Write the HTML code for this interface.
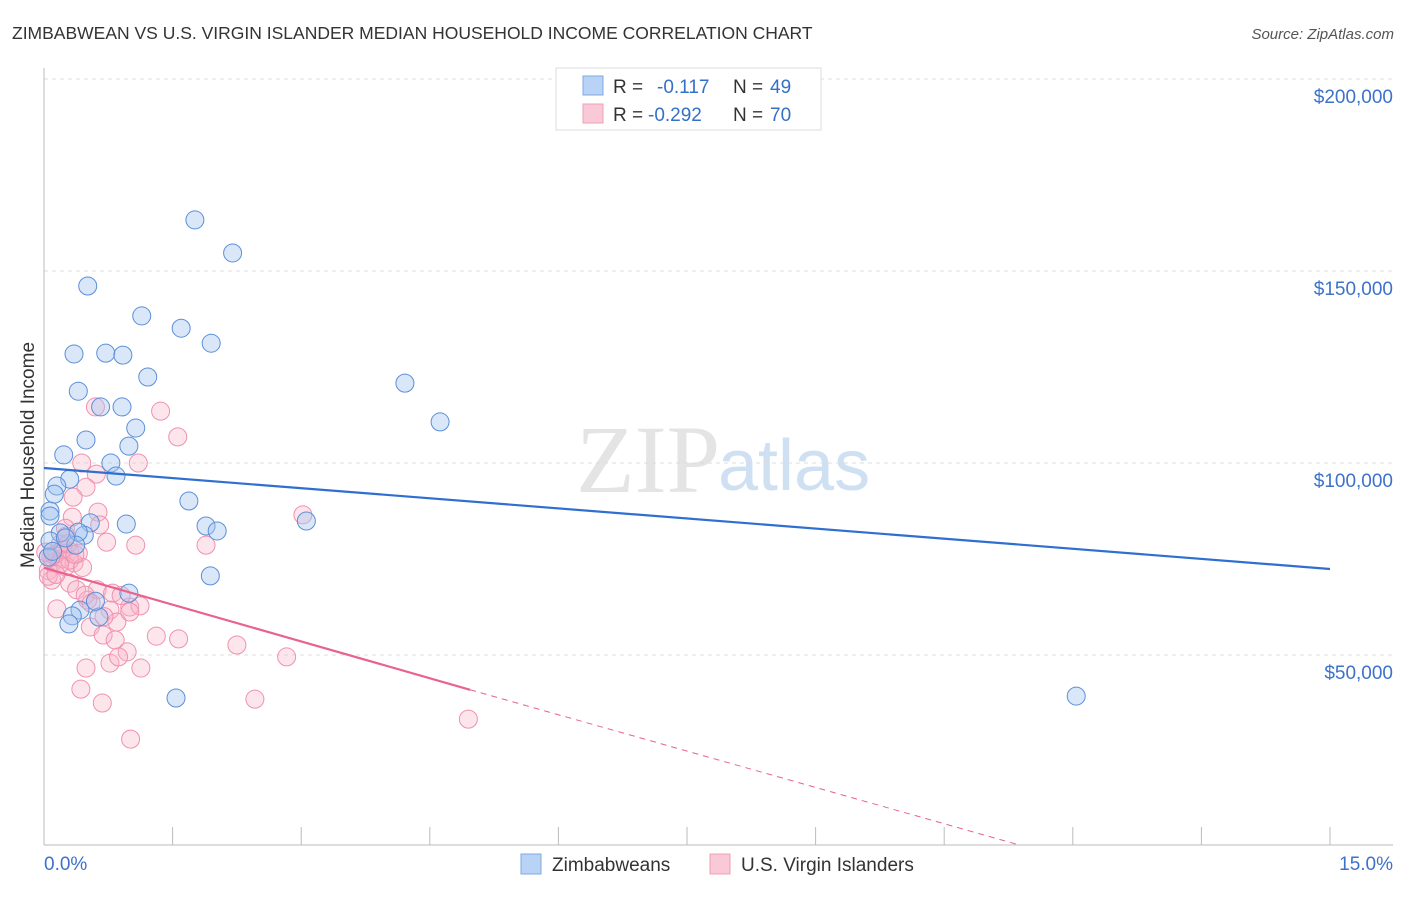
<!DOCTYPE html>
<html><head><meta charset="utf-8"><style>
body{margin:0;background:#fff;font-family:"Liberation Sans",sans-serif;}
</style></head><body>
<svg id="chart" width="1406" height="892" xmlns="http://www.w3.org/2000/svg" style="font-family:'Liberation Sans',sans-serif">
<text x="12" y="39" font-size="17.5" fill="#333">ZIMBABWEAN VS U.S. VIRGIN ISLANDER MEDIAN HOUSEHOLD INCOME CORRELATION CHART</text>
<text x="1394" y="39" font-size="15" fill="#555" font-style="italic" text-anchor="end">Source: ZipAtlas.com</text>
<text x="720" y="492" font-size="96" fill="#e4e4e4" text-anchor="end" font-family="Liberation Serif">ZIP</text>
<text x="718" y="490" font-size="72" fill="#cfe0f3">atlas</text>
<g id="grid"></g><g id="axes"></g><g id="pts"></g><g id="trends"></g>
<text transform="translate(34,455) rotate(-90)" font-size="19" fill="#333" text-anchor="middle">Median Household Income</text>
<g>
<rect x="556" y="68" width="265" height="62" fill="#fff" stroke="#ddd"/>
<rect x="583" y="76" width="20" height="19" fill="#b8d3f5" stroke="#7fa8e0"/>
<rect x="583" y="104" width="20" height="19" fill="#f9c9d8" stroke="#f0a0b8"/>
<text x="613" y="93" font-size="19" fill="#333">R = </text><text x="657" y="93" font-size="19" fill="#3570c8">-0.117</text>
<text x="733" y="93" font-size="19" fill="#333">N = </text><text x="770" y="93" font-size="19" fill="#3570c8">49</text>
<text x="613" y="121" font-size="19" fill="#333">R = </text><text x="648" y="121" font-size="19" fill="#3570c8">-0.292</text>
<text x="733" y="121" font-size="19" fill="#333">N = </text><text x="770" y="121" font-size="19" fill="#3570c8">70</text>
</g>
<g>
<rect x="521" y="854" width="20" height="20" fill="#b8d3f5" stroke="#7fa8e0"/>
<text x="552" y="871" font-size="19" fill="#333">Zimbabweans</text>
<rect x="710" y="854" width="20" height="20" fill="#f9c9d8" stroke="#f0a0b8"/>
<text x="741" y="871" font-size="19" fill="#333">U.S. Virgin Islanders</text>
</g>
</svg>
<script>
const xTicks=[0,1.5,3,4.5,6,7.5,9,10.5,12,13.5,15];
const yTicks=[50,100,150,200];
const yTickLabels=["$50,000","$100,000","$150,000","$200,000"];
const xTickLabels=["0.0%","15.0%"];
const blueX=[1.76,2.20,0.51,1.14,1.60,1.95,0.35,0.72,0.92,1.21,4.21,0.40,0.66,0.91,4.62,1.07,0.49,0.99,0.23,0.78,0.84,0.30,0.15,0.12,1.69,0.07,0.07,0.54,0.96,1.89,3.06,2.02,0.19,0.47,0.40,0.07,0.37,1.94,0.99,0.42,0.33,0.64,0.29,1.54,12.04,0.05,0.10,0.60,0.25];
const blueY=[163.3,154.7,146.1,138.3,135.1,131.2,128.4,128.6,128.1,122.4,120.8,118.7,114.6,114.6,110.7,109.1,106.0,104.4,102.1,100.0,96.6,95.8,94.0,91.9,90.1,87.5,86.2,84.4,84.1,83.6,84.9,82.3,81.8,81.2,82.0,79.7,78.6,70.6,66.1,61.7,60.2,59.9,58.1,38.8,39.3,75.5,77.0,64.0,80.5];
const pinkX=[0.60,1.36,1.56,0.44,1.10,0.61,0.49,0.34,0.63,0.33,0.73,1.07,1.89,0.15,0.20,0.10,0.30,0.05,0.25,0.35,0.40,0.09,0.30,0.62,0.80,0.38,0.51,1.0,1.12,0.15,0.77,0.54,0.85,0.69,0.83,1.31,1.57,2.25,0.97,0.77,1.13,0.49,0.87,2.83,0.43,2.46,0.68,1.01,4.95,3.02,0.48,1.0,0.19,0.30,0.25,0.65,0.12,0.22,0.18,0.05,0.28,0.08,0.45,0.36,0.14,0.55,0.70,0.26,0.02,0.90];
const pinkY=[114.6,113.5,106.8,100,100,97.1,93.7,91.1,87.2,85.9,79.4,78.6,78.6,76.5,75,74,77,72,73,74,76.5,69.5,68.7,67,66.1,67,64.3,62.5,62.8,62,61.7,57.3,58.6,55.2,53.9,54.9,54.2,52.6,50.8,47.9,46.6,46.6,49.5,49.5,41.1,38.5,37.5,28.1,33.3,86.5,65.6,61.2,78.9,74.7,83,83.9,76,77.5,73.5,70.5,79,75.5,72.8,76.2,71,63.5,60,81,76.8,65.5];
const blueTrend=[98.7,72.4];
const pinkTrend=[72.7,-6.39];
const X=v=>44+v/15*1286, Y=v=>847-v/50*192;
const NS="http://www.w3.org/2000/svg";
function mk(t,a,p){const e=document.createElementNS(NS,t);for(const k in a)e.setAttribute(k,a[k]);p.appendChild(e);return e;}
const grid=document.getElementById('grid'),axes=document.getElementById('axes'),pts=document.getElementById('pts'),tr=document.getElementById('trends');
yTicks.forEach((v,i)=>{
 const l=mk('line',{x1:44,x2:1393,y1:Y(v),y2:Y(v),stroke:'#ddd','stroke-dasharray':'4,4'},grid);
 
 
 const t=mk('text',{x:1393,y:Y(v)+24,'font-size':19,fill:'#3d72c9','text-anchor':'end'},grid);
 t.textContent=yTickLabels[i];
 
 
});
let a=mk('line',{x1:44,x2:44,y1:68,y2:845,stroke:'#bbb'},axes);


a=mk('line',{x1:44,x2:1393,y1:845,y2:845,stroke:'#bbb'},axes);


xTicks.forEach(v=>{const l=mk('line',{x1:X(v),x2:X(v),y1:827,y2:845,stroke:'#bbb'},axes);
 
 });
let t=mk('text',{x:44,y:870,'font-size':19,fill:'#3d72c9'},axes);t.textContent=xTickLabels[0];


t=mk('text',{x:1393,y:870,'font-size':19,fill:'#3d72c9','text-anchor':'end'},axes);t.textContent=xTickLabels[1];


pinkX.forEach((x,i)=>{const c=mk('circle',{cx:X(x),cy:Y(pinkY[i]),r:9,fill:'rgba(248,180,200,0.35)',stroke:'#f090b0','stroke-width':1},pts);
 
 });
blueX.forEach((x,i)=>{const c=mk('circle',{cx:X(x),cy:Y(blueY[i]),r:9,fill:'rgba(160,196,240,0.4)',stroke:'#5b8fd8','stroke-width':1},pts);
 
 });
let l=mk('line',{x1:X(0),y1:Y(blueTrend[0]),x2:X(15),y2:Y(blueTrend[1]),stroke:'#2f6fd0','stroke-width':2.2},tr);


const pe=4.97, pz=-pinkTrend[0]/pinkTrend[1];
l=mk('line',{x1:X(0),y1:Y(pinkTrend[0]),x2:X(pe),y2:Y(pinkTrend[0]+pinkTrend[1]*pe),stroke:'#e8638f','stroke-width':2.2},tr);


const xe=Math.min(15,pz);
l=mk('line',{x1:X(pe),y1:Y(pinkTrend[0]+pinkTrend[1]*pe),x2:X(xe),y2:Math.min(845,Y(pinkTrend[0]+pinkTrend[1]*xe)),stroke:'#e8638f','stroke-width':1,'stroke-dasharray':'6,5'},tr);


</script>
</body></html>
